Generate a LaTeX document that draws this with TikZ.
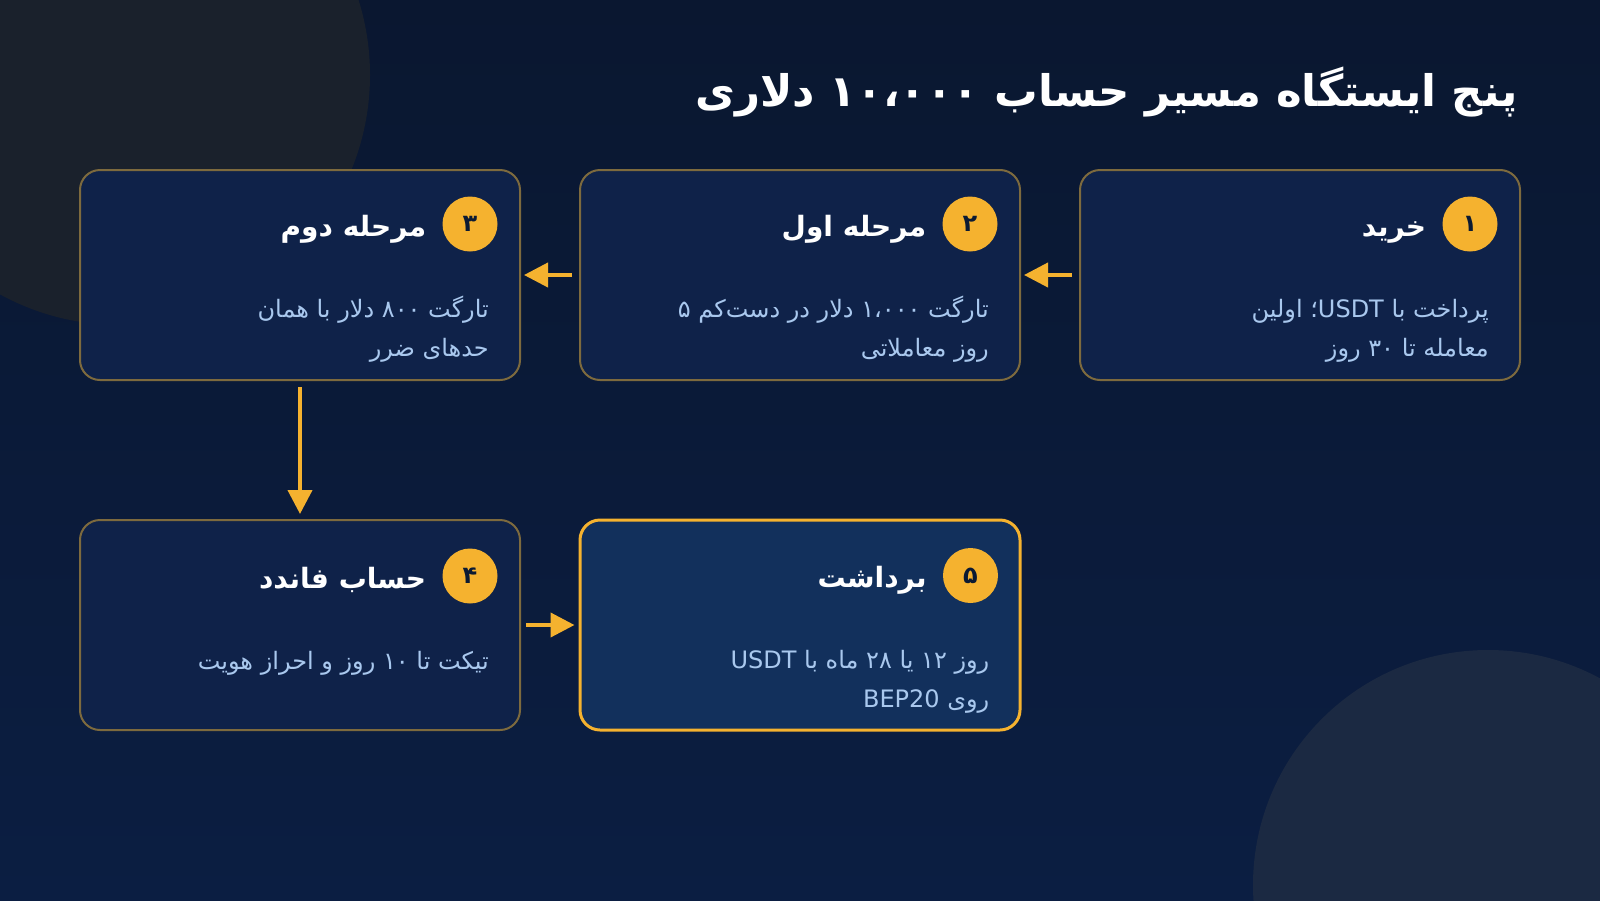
\documentclass[tikz,border=0pt]{standalone}
\usepackage{fontspec}
\usetikzlibrary{arrows.meta,positioning}
\TeXXeTstate=1
\newfontfamily\arabicfont[Script=Arabic]{DejaVu Sans}
\newcommand{\fatext}[1]{{\arabicfont\beginR #1\endR}}
\definecolor{bgtop}{HTML}{0A1730}
\definecolor{bgbot}{HTML}{0B1E42}
\definecolor{decoA}{HTML}{1A212C}
\definecolor{decoB}{HTML}{1B2942}
\definecolor{stagefill}{HTML}{0F2249}
\definecolor{stagehi}{HTML}{12305C}
\definecolor{stageline}{HTML}{7D6A3E}
\definecolor{gold}{HTML}{F5B22F}
\definecolor{navy}{HTML}{0B1A33}
\definecolor{bodytext}{HTML}{A9C8EE}
\tikzset{
  stage/.style={draw=stageline, line width=2pt, fill=stagefill, rounded corners=20pt,
    minimum width=440pt, minimum height=210pt, inner sep=0pt},
  lastStage/.style={stage, draw=gold, line width=3pt, fill=stagehi},
  badge/.style={circle, fill=gold, minimum size=55pt, inner sep=0pt, text=navy,
    font=\arabicfont\bfseries\fontsize{24}{24}\selectfont},
  head/.style={anchor=base east, inner sep=0pt, text=white,
    font=\arabicfont\bfseries\fontsize{28}{30}\selectfont},
  body/.style={anchor=base east, inner sep=0pt, align=right, text=bodytext,
    font=\arabicfont\fontsize{24}{39}\selectfont},
  flow/.style={draw=gold, line width=4pt, -{Triangle[length=24pt,width=24pt]}}
}
\begin{document}
\begin{tikzpicture}[x=1pt,y=-1pt]
	\useasboundingbox (0,0) rectangle (1600,900);
	\shade[top color=bgtop, bottom color=bgbot] (0,0) rectangle (1600,900);
	\fill[decoA] (120,75) circle (250pt);
	\fill[decoB] (1488,885) circle (235pt);

	\node [anchor=base east, text=white, font=\arabicfont\bfseries\fontsize{43.5}{48}\selectfont] (title) at (1521,106) {\fatext{پنج ایستگاه مسیر حساب ۱۰،۰۰۰ دلاری}};

	\node [stage] (buy) at (1300,275) {};
	\node [stage] (phase1) at (800,275) {};
	\node [stage] (phase2) at (300,275) {};
	\node [stage] (funded) at (300,625) {};
	\node [lastStage] (payout) at (800,625) {};

	\node [badge] (b1) at ([xshift=-51pt,yshift=-55pt]buy.north east) {\fatext{۱}};
	\node [head] at ([xshift=-16pt,yshift=-12pt]b1.west) {\fatext{خرید}};
	\node [body] at ([xshift=-32pt,yshift=-187pt]buy.north east) {\fatext{پرداخت با \beginL USDT\endL؛ اولین}\\\fatext{معامله تا ۳۰ روز}};

	\node [badge] (b2) at ([xshift=-51pt,yshift=-55pt]phase1.north east) {\fatext{۲}};
	\node [head] at ([xshift=-16pt,yshift=-12pt]b2.west) {\fatext{مرحله اول}};
	\node [body] at ([xshift=-32pt,yshift=-187pt]phase1.north east) {\fatext{تارگت ۱،۰۰۰ دلار در دست‌کم ۵}\\\fatext{روز معاملاتی}};

	\node [badge] (b3) at ([xshift=-51pt,yshift=-55pt]phase2.north east) {\fatext{۳}};
	\node [head] at ([xshift=-16pt,yshift=-12pt]b3.west) {\fatext{مرحله دوم}};
	\node [body] at ([xshift=-32pt,yshift=-187pt]phase2.north east) {\fatext{تارگت ۸۰۰ دلار با همان}\\\fatext{حدهای ضرر}};

	\node [badge] (b4) at ([xshift=-51pt,yshift=-57pt]funded.north east) {\fatext{۴}};
	\node [head] at ([xshift=-16pt,yshift=-12pt]b4.west) {\fatext{حساب فاندد}};
	\node [body] at ([xshift=-32pt,yshift=-150pt]funded.north east) {\fatext{تیکت تا ۱۰ روز و احراز هویت}};

	\node [badge] (b5) at ([xshift=-51pt,yshift=-57pt]payout.north east) {\fatext{۵}};
	\node [head] at ([xshift=-16pt,yshift=-12pt]b5.west) {\fatext{برداشت}};
	\node [body] at ([xshift=-32pt,yshift=-189pt]payout.north east) {\fatext{روز ۱۲ یا ۲۸ ماه با USDT}\\\fatext{روی BEP20}};

	\draw [flow] ([xshift=-7pt]buy.west) -- ([xshift=3pt]phase1.east);
	\draw [flow] ([xshift=-7pt]phase1.west) -- ([xshift=3pt]phase2.east);
	\draw [flow] ([yshift=-6pt]phase2.south) -- ([yshift=5pt]funded.north);
	\draw [flow] ([xshift=5pt]funded.east) -- ([xshift=-4pt]payout.west);
\end{tikzpicture}
\end{document}
